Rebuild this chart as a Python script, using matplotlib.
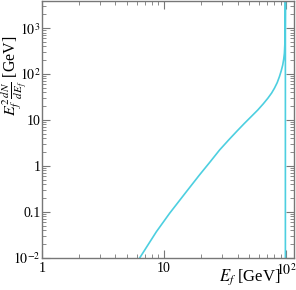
import matplotlib
matplotlib.use("Agg")
import matplotlib.pyplot as plt
from matplotlib.ticker import LogLocator, FixedLocator, NullFormatter

plt.rcParams['font.family'] = ['Liberation Serif', 'DejaVu Serif']
plt.rcParams['mathtext.fontset'] = 'stix'

# Data (E_f in GeV, E_f^2 dN/dE_f in GeV)
energy = [6.33, 8.65, 11.1, 15.0, 19.5, 24.0, 28.5, 34.4, 40.0, 45.6, 52.0, 58.6,
          65.0, 70.8, 76.0, 80.2, 84.5, 88.1, 91.2, 93.8, 95.5, 96.8, 97.8, 98.3,
          98.6, 98.6]
flux = [0.01, 0.0368, 0.0927, 0.26, 0.634, 1.25, 2.22, 3.85, 5.9, 8.47, 12.0, 16.5,
        22.5, 29.7, 38.5, 49.1, 65.0, 87.7, 118, 158, 210, 284, 500, 1000,
        3900, 1e-3]

x_ticks = [1, 10, 100]
x_ticklabels = ['1', '10', r'$10^2$']
y_ticks = [0.01, 0.1, 1, 10, 100, 1000]
y_ticklabels = [r'$10^{-2}$', '0.1', '1', '10', r'$10^2$', r'$10^3$']

W, H = 296, 290
fig = plt.figure(figsize=(W / 100, H / 100), dpi=100)
ax = fig.add_axes([42 / W, 1 - 257.7 / H, 252 / W, 256.7 / H])

ax.plot(energy, flux, color='#4dcfe0', lw=1.2)
ax.set_xscale('log')
ax.set_yscale('log')
ax.set_xlim(1, 116)
ax.set_ylim(0.01, 3900)

ax.xaxis.set_major_locator(FixedLocator(x_ticks))
ax.set_xticklabels(x_ticklabels)
ax.xaxis.set_minor_locator(LogLocator(base=10, subs=range(2, 10)))
ax.xaxis.set_minor_formatter(NullFormatter())
ax.yaxis.set_major_locator(FixedLocator(y_ticks))
ax.set_yticklabels(y_ticklabels)
ax.yaxis.set_minor_locator(LogLocator(base=10, subs=range(2, 10)))
ax.yaxis.set_minor_formatter(NullFormatter())

sc = '#777777'
for s in ax.spines.values():
    s.set_color(sc)
    s.set_linewidth(1.0)
ax.tick_params(which='both', direction='in', top=True, right=True, color=sc,
               labelsize=10)
ax.tick_params(which='major', length=6, width=0.8)
ax.tick_params(which='minor', length=3, width=0.6)
ax.tick_params(axis='y', pad=1)
ax.tick_params(axis='x', pad=3)

fig.text(14.5 / W, 1 - 76 / H, r'$E_f^2\frac{dN}{dE_f}$ [GeV]', fontsize=11.5,
         rotation=90, ha='center', va='center')
fig.text(281 / W, 1 - 277 / H, r'$E_f$ [GeV]', fontsize=12, ha='right', va='center')

fig.savefig('out.png', dpi=100)
